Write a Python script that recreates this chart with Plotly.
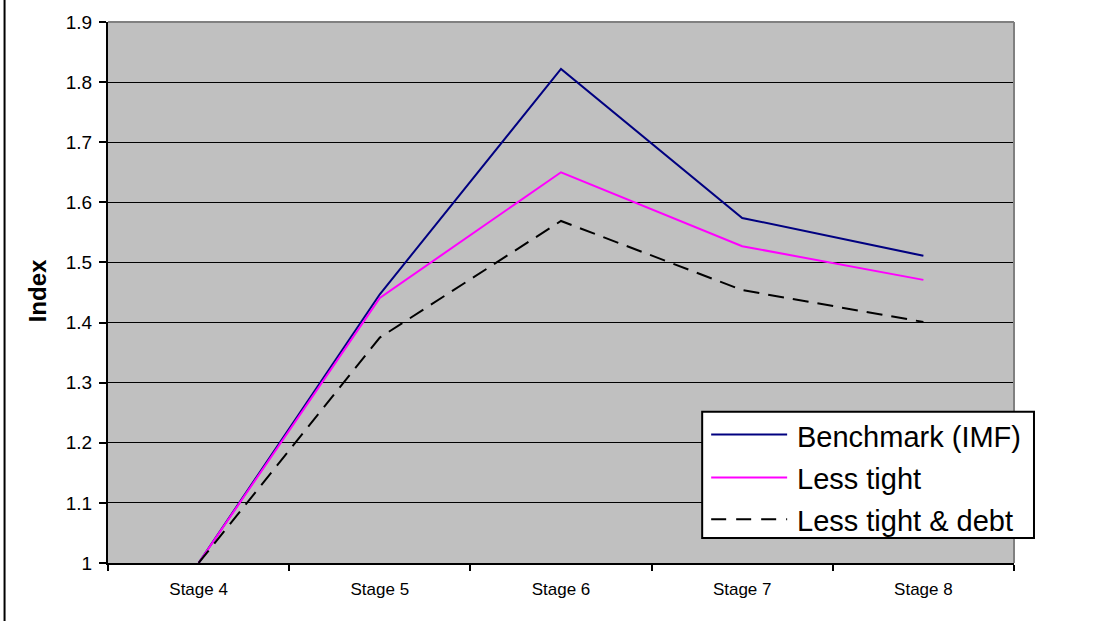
import plotly.graph_objects as go

# Series data
stages = ["Stage 4", "Stage 5", "Stage 6", "Stage 7", "Stage 8"]
benchmark = [1.0, 1.447, 1.822, 1.574, 1.511]
less_tight = [1.0, 1.441, 1.650, 1.527, 1.471]
less_tight_debt = [1.0, 1.375, 1.569, 1.454, 1.401]

series_names = ["Benchmark (IMF)", "Less tight", "Less tight & debt"]
series_colors = ["#000080", "#FF00FF", "#000000"]
series_dash = ["solid", "solid", "16px,9px"]
y_ticks = [1, 1.1, 1.2, 1.3, 1.4, 1.5, 1.6, 1.7, 1.8, 1.9]

W, H = 1100, 621
L, R, T, B = 107.5, 86, 19.5, 58
pw, ph = W - L - R, H - T - B


def px(x):
    return (x - L) / pw


def py(y):
    return (H - B - y) / ph


fig = go.Figure()
for name, vals, col, dash in zip(series_names,
                                 [benchmark, less_tight, less_tight_debt],
                                 series_colors, series_dash):
    fig.add_trace(go.Scatter(
        x=stages, y=vals, mode="lines", name=name,
        line=dict(color=col, width=2, dash=dash),
        showlegend=False,
    ))

shapes = [
    # outer chart frame (left edge)
    dict(type="line", xref="paper", yref="paper", x0=px(4), x1=px(4),
         y0=py(-5), y1=py(626), line=dict(color="black", width=2)),
    # plot-area border, top and right
    dict(type="line", xref="paper", yref="paper", x0=0, x1=1, y0=1, y1=1,
         line=dict(color="#808080", width=2)),
    dict(type="line", xref="paper", yref="paper", x0=1, x1=1, y0=0, y1=1,
         line=dict(color="#808080", width=2)),
    # legend box
    dict(type="rect", xref="paper", yref="paper",
         x0=px(702), x1=px(1034), y0=py(538), y1=py(411),
         fillcolor="white", line=dict(color="black", width=2), layer="above"),
]

annotations = [
    # y-axis title
    dict(xref="paper", yref="paper", x=px(37), y=py(289.5), text="<b>Index</b>",
         textangle=-90, showarrow=False, xanchor="center", yanchor="middle",
         font=dict(family="Liberation Sans, Arial", size=24, color="black")),
]
rows = [434, 477, 519]
for name, col, dash, ry in zip(series_names, series_colors, series_dash, rows):
    shapes.append(dict(type="line", xref="paper", yref="paper",
                       x0=px(711), x1=px(787), y0=py(ry), y1=py(ry),
                       line=dict(color=col, width=2,
                                 dash="15px,10px" if dash != "solid" else "solid"),
                       layer="above"))
    annotations.append(dict(xref="paper", yref="paper", x=px(795), y=py(ry + 2),
                            text=name, showarrow=False, xanchor="left",
                            yanchor="middle",
                            font=dict(family="Liberation Sans, Arial", size=29,
                                      color="black")))

fig.update_layout(
    width=W, height=H,
    margin=dict(l=L, r=R, t=T, b=B),
    paper_bgcolor="white",
    plot_bgcolor="#C0C0C0",
    font=dict(family="Liberation Sans, Arial", color="black"),
    shapes=shapes,
    annotations=annotations,
    xaxis=dict(
        type="category", range=[-0.5, 4.5], tickson="boundaries",
        ticks="outside", ticklen=6, tickwidth=2, tickcolor="black",
        showline=True, linecolor="black", linewidth=2, showgrid=False,
        tickfont=dict(size=17), zeroline=False, ticklabelstandoff=10,
    ),
    yaxis=dict(
        range=[1, 1.9], tickvals=y_ticks,
        ticktext=[f"{v:g}" for v in y_ticks],
        ticks="outside", ticklen=7, tickwidth=2, tickcolor="black",
        showline=True, linecolor="black", linewidth=2,
        showgrid=True, gridcolor="black", gridwidth=1, zeroline=False,
        tickfont=dict(size=19), ticklabelstandoff=3,
    ),
)

fig.write_html("out.html")
